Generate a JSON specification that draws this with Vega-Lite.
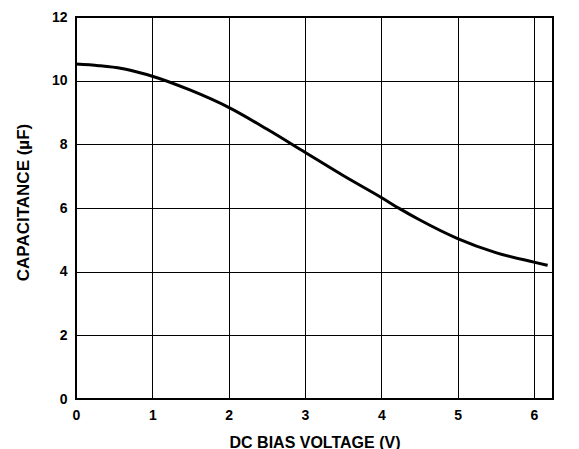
{
  "$schema": "https://vega.github.io/schema/vega-lite/v6.json",
  "autosize": {"type": "none"},
  "padding": {"left": 76, "top": 17, "right": 26, "bottom": 50},
  "width": 477,
  "height": 382,
  "background": "white",
  "config": {
    "view": {"stroke": "black", "strokeWidth": 2},
    "font": "Liberation Sans",
    "axis": {
      "grid": true,
      "gridColor": "black",
      "gridWidth": 1,
      "gridOpacity": 1,
      "domain": false,
      "ticks": false,
      "labelFont": "Liberation Sans",
      "labelFontWeight": "bold",
      "labelFontSize": 14,
      "labelColor": "black",
      "titleFont": "Liberation Sans",
      "titleFontWeight": "bold",
      "titleFontSize": 16,
      "titleColor": "black"
    }
  },
  "data": {
    "values": [
      {"v": 0.0, "c": 10.52},
      {"v": 0.3, "c": 10.47},
      {"v": 0.6, "c": 10.38},
      {"v": 0.8, "c": 10.27},
      {"v": 1.0, "c": 10.14},
      {"v": 1.5, "c": 9.7},
      {"v": 2.0, "c": 9.16},
      {"v": 2.5, "c": 8.48},
      {"v": 3.0, "c": 7.75},
      {"v": 3.5, "c": 7.02},
      {"v": 4.0, "c": 6.33},
      {"v": 4.24, "c": 5.98},
      {"v": 4.5, "c": 5.63},
      {"v": 5.0, "c": 5.04},
      {"v": 5.5, "c": 4.6},
      {"v": 6.0, "c": 4.3},
      {"v": 6.18, "c": 4.2}
    ]
  },
  "mark": {"type": "line", "color": "black", "strokeWidth": 3, "interpolate": "monotone"},
  "encoding": {
    "x": {
      "field": "v",
      "type": "quantitative",
      "scale": {"domain": [0, 6.25], "nice": false, "zero": false},
      "axis": {"values": [0, 1, 2, 3, 4, 5, 6], "title": "DC BIAS VOLTAGE (V)", "labelPadding": 9, "titlePadding": 12, "format": "d", "labelFlush": false}
    },
    "y": {
      "field": "c",
      "type": "quantitative",
      "scale": {"domain": [0, 12], "nice": false},
      "axis": {"values": [0, 2, 4, 6, 8, 10, 12], "title": "CAPACITANCE (µF)", "titleFontSize": 17, "labelPadding": 9, "titlePadding": 19, "titleY": 185, "format": "d"}
    }
  }
}
